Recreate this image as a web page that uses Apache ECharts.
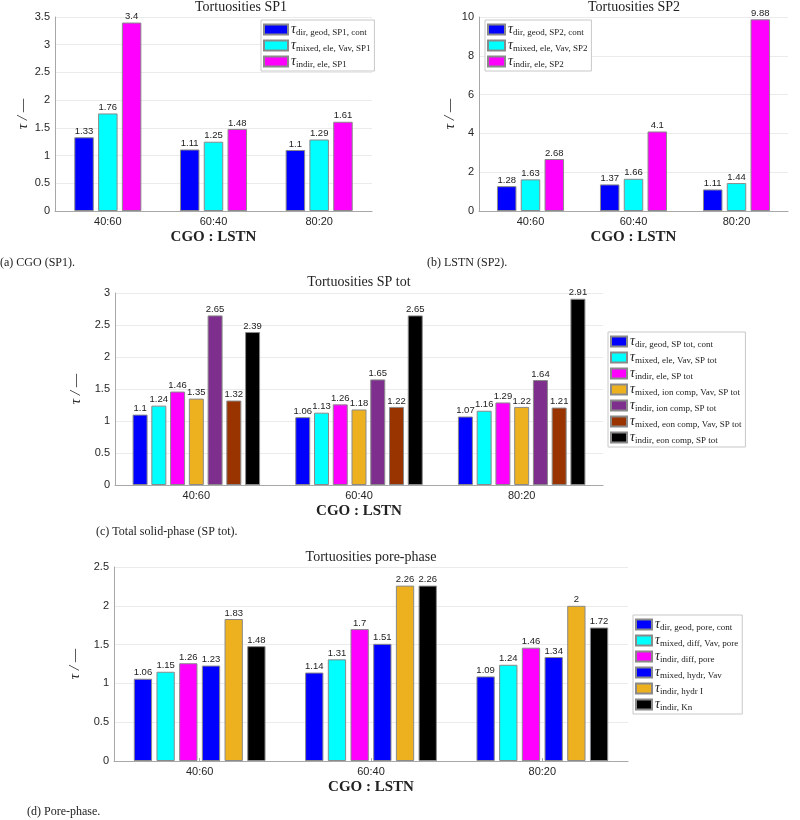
<!DOCTYPE html>
<html>
<head>
<meta charset="utf-8">
<script src="https://cdn.jsdelivr.net/npm/echarts@6/dist/echarts.min.js"></script>
<style>html,body{margin:0;padding:0;background:#fff}#c{width:800px;height:820px}</style>
</head>
<body>
<div id="c"></div>
<script>
// ---------- data ----------
const categories = ['40:60', '60:40', '80:20'];

// (a) CGO (SP1)
const sp1Names = ['dir, geod, SP1, cont', 'mixed, ele, Vav, SP1', 'indir, ele, SP1'];
const sp1Dir = [1.33, 1.11, 1.1];
const sp1Mixed = [1.76, 1.25, 1.29];
const sp1Indir = [3.4, 1.48, 1.61];

// (b) LSTN (SP2)
const sp2Names = ['dir, geod, SP2, cont', 'mixed, ele, Vav, SP2', 'indir, ele, SP2'];
const sp2Dir = [1.28, 1.37, 1.11];
const sp2Mixed = [1.63, 1.66, 1.44];
const sp2Indir = [2.68, 4.1, 9.88];

// (c) SP tot
const totNames = ['dir, geod, SP tot, cont', 'mixed, ele, Vav, SP tot', 'indir, ele, SP tot',
  'mixed, ion comp, Vav, SP tot', 'indir, ion comp, SP tot', 'mixed, eon comp, Vav, SP tot', 'indir, eon comp, SP tot'];
const totDir = [1.1, 1.06, 1.07];
const totMixedEle = [1.24, 1.13, 1.16];
const totIndirEle = [1.46, 1.26, 1.29];
const totMixedIon = [1.35, 1.18, 1.22];
const totIndirIon = [2.65, 1.65, 1.64];
const totMixedEon = [1.32, 1.22, 1.21];
const totIndirEon = [2.39, 2.65, 2.91];

// (d) pore phase
const poreNames = ['dir, geod, pore, cont', 'mixed, diff, Vav, pore', 'indir, diff, pore',
  'mixed, hydr, Vav', 'indir, hydr I', 'indir, Kn'];
const poreDir = [1.06, 1.14, 1.09];
const poreMixedDiff = [1.15, 1.31, 1.24];
const poreIndirDiff = [1.26, 1.7, 1.46];
const poreMixedHydr = [1.23, 1.51, 1.34];
const poreIndirHydr = [1.83, 2.26, 2.0];
const poreKn = [1.48, 2.26, 1.72];

const yTicks = [
  {max: 3.5, interval: 0.5},
  {max: 10, interval: 2},
  {max: 3, interval: 0.5},
  {max: 2.5, interval: 0.5}
];

// ---------- styling ----------
const C = {blue: '#0000FF', cyan: '#00FFFF', magenta: '#FF00FF', orange: '#EDB120',
  purple: '#7E2F8E', brown: '#993300', black: '#000000'};
const SANS = 'Liberation Sans, Arial, sans-serif';
const SERIF = 'Liberation Serif, Times New Roman, serif';

const grids = [
  {left: 55, top: 17, width: 317, height: 194},
  {left: 479, top: 17, width: 309, height: 194},
  {left: 115, top: 293, width: 488, height: 192},
  {left: 114, top: 567, width: 514, height: 194}
];
const yNameGaps = [21, 17, 22, 19];

function xAxis(i) {
  return {
    type: 'category', gridIndex: i, data: categories,
    name: 'CGO : LSTN', nameLocation: 'middle', nameGap: 19,
    nameTextStyle: {fontFamily: SERIF, fontWeight: 'bold', fontSize: 15, color: '#222'},
    axisLine: {lineStyle: {color: '#a8a8a8', width: 1}},
    axisTick: {show: true, inside: true, alignWithLabel: true, length: 3, lineStyle: {color: '#a8a8a8'}},
    axisLabel: {fontFamily: SANS, fontSize: 11, color: '#262626', margin: 5},
    splitLine: {show: false}
  };
}
function yAxis(i) {
  return {
    type: 'value', gridIndex: i, min: 0, max: yTicks[i].max, interval: yTicks[i].interval,
    name: 'τ / —', nameLocation: 'middle', nameGap: yNameGaps[i], nameRotate: 90,
    nameTextStyle: {fontFamily: SERIF, fontSize: 15, fontStyle: 'italic', color: '#222'},
    axisLine: {show: true, lineStyle: {color: '#a8a8a8', width: 1}},
    axisTick: {show: false},
    axisLabel: {fontFamily: SANS, fontSize: 11, color: '#262626', margin: 5},
    splitLine: {show: true, lineStyle: {color: '#ebebeb', width: 1}}
  };
}
function bar(name, data, color, i, w, gap) {
  return {
    type: 'bar', name: name, data: data, xAxisIndex: i, yAxisIndex: i,
    barWidth: w, barGap: gap,
    itemStyle: {color: color, borderColor: '#8a8a8a', borderWidth: 1},
    label: {show: true, position: 'top', distance: 1, fontFamily: SANS, fontSize: 9.5, color: '#222'},
    emphasis: {disabled: true}, animation: false
  };
}
function legend(names, left, top, iw) {
  return {
    data: names, left: left, top: top, orient: 'vertical',
    itemWidth: iw, itemHeight: 10, itemGap: 1, icon: 'rect',
    backgroundColor: '#fff', borderColor: '#c8c8c8', borderWidth: 1, borderRadius: 0,
    padding: [2, 4, 2, 2], selectedMode: false,
    formatter: n => '{t|τ}{s|' + n + '}',
    textStyle: {
      fontFamily: SERIF, color: '#222', padding: [0, 0, 0, -2],
      rich: {
        t: {fontFamily: SERIF, fontStyle: 'italic', fontSize: 14, lineHeight: 15, color: '#222'},
        s: {fontFamily: SERIF, fontSize: 9, lineHeight: 9, padding: [6, 0, 0, 0], color: '#222'}
      }
    }
  };
}

const option = {
  backgroundColor: '#fff',
  animation: false,
  title: [
    {text: 'Tortuosities SP1', left: 241, top: 0, textAlign: 'center', padding: 0,
      textStyle: {fontFamily: SERIF, fontWeight: 'normal', fontSize: 14, color: '#222'}},
    {text: 'Tortuosities SP2', left: 634, top: 0, textAlign: 'center', padding: 0,
      textStyle: {fontFamily: SERIF, fontWeight: 'normal', fontSize: 14, color: '#222'}},
    {text: 'Tortuosities SP tot', left: 359, top: 275, textAlign: 'center', padding: 0,
      textStyle: {fontFamily: SERIF, fontWeight: 'normal', fontSize: 14, color: '#222'}},
    {text: 'Tortuosities pore-phase', left: 371, top: 550, textAlign: 'center', padding: 0,
      textStyle: {fontFamily: SERIF, fontWeight: 'normal', fontSize: 14, color: '#222'}},
    {text: '(a) CGO (SP1).', left: 0, top: 257, padding: 0,
      textStyle: {fontFamily: SERIF, fontWeight: 'normal', fontSize: 12, color: '#222'}},
    {text: '(b) LSTN (SP2).', left: 427, top: 257, padding: 0,
      textStyle: {fontFamily: SERIF, fontWeight: 'normal', fontSize: 12, color: '#222'}},
    {text: '(c) Total solid-phase (SP tot).', left: 96, top: 526, padding: 0,
      textStyle: {fontFamily: SERIF, fontWeight: 'normal', fontSize: 12, color: '#222'}},
    {text: '(d) Pore-phase.', left: 27, top: 806, padding: 0,
      textStyle: {fontFamily: SERIF, fontWeight: 'normal', fontSize: 12, color: '#222'}}
  ],
  grid: grids,
  xAxis: [xAxis(0), xAxis(1), xAxis(2), xAxis(3)],
  yAxis: [yAxis(0), yAxis(1), yAxis(2), yAxis(3)],
  legend: [
    legend(sp1Names, 261, 20, 24),
    legend(sp2Names, 485, 20, 17),
    legend(totNames, 608, 332, 16),
    legend(poreNames, 633, 615, 16)
  ],
  series: [
    bar(sp1Names[0], sp1Dir, C.blue, 0, 19.5, '22%'),
    bar(sp1Names[1], sp1Mixed, C.cyan, 0, 19.5, '22%'),
    bar(sp1Names[2], sp1Indir, C.magenta, 0, 19.5, '22%'),

    bar(sp2Names[0], sp2Dir, C.blue, 1, 19.5, '22%'),
    bar(sp2Names[1], sp2Mixed, C.cyan, 1, 19.5, '22%'),
    bar(sp2Names[2], sp2Indir, C.magenta, 1, 19.5, '22%'),

    bar(totNames[0], totDir, C.blue, 2, 15, '25%'),
    bar(totNames[1], totMixedEle, C.cyan, 2, 15, '25%'),
    bar(totNames[2], totIndirEle, C.magenta, 2, 15, '25%'),
    bar(totNames[3], totMixedIon, C.orange, 2, 15, '25%'),
    bar(totNames[4], totIndirIon, C.purple, 2, 15, '25%'),
    bar(totNames[5], totMixedEon, C.brown, 2, 15, '25%'),
    bar(totNames[6], totIndirEon, C.black, 2, 15, '25%'),

    bar(poreNames[0], poreDir, C.blue, 3, 18.3, '24%'),
    bar(poreNames[1], poreMixedDiff, C.cyan, 3, 18.3, '24%'),
    bar(poreNames[2], poreIndirDiff, C.magenta, 3, 18.3, '24%'),
    bar(poreNames[3], poreMixedHydr, C.blue, 3, 18.3, '24%'),
    bar(poreNames[4], poreIndirHydr, C.orange, 3, 18.3, '24%'),
    bar(poreNames[5], poreKn, C.black, 3, 18.3, '24%')
  ]
};

const chart = echarts.init(document.getElementById('c'), null, {renderer: 'canvas'});
chart.setOption(option);
</script>
</body>
</html>
